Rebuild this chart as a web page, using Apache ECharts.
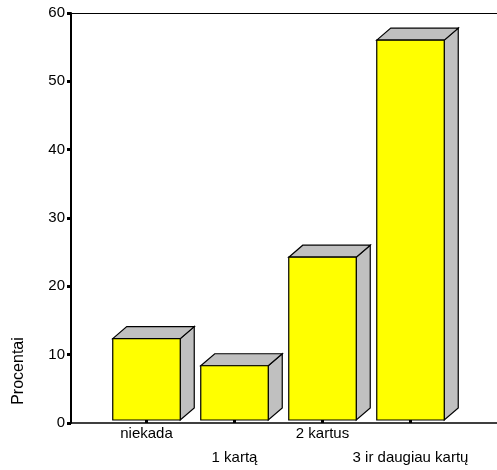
<!DOCTYPE html>
<html><head><meta charset="utf-8">
<script src="https://cdn.jsdelivr.net/npm/echarts@6/dist/echarts.min.js"></script>
<style>html,body{margin:0;padding:0;background:#fff}#c{width:497px;height:470px}</style>
</head><body><div id="c"></div>
<script>
var categories = ['niekada', '1 kartą', '2 kartus', '3 ir daugiau kartų'];
var values = [12, 8, 24, 56];
var yTicks = { min: 0, max: 60, interval: 10 };
var yTitle = 'Procentai';

var FONT = '"Liberation Sans", Arial, sans-serif';
var DX = 14, DY = 12;
var chart = echarts.init(document.getElementById('c'));
chart.setOption({
  animation: false,
  backgroundColor: '#fff',
  grid: [
    { left: 71, right: 0, top: 13, bottom: 47 },
    { left: 102.5, width: 352, top: 13, bottom: 47 }
  ],
  xAxis: [
    { gridIndex: 0, type: 'value', min: 0, max: 1, position: 'bottom',
      axisLine: { show: true, lineStyle: { color: '#000', width: 1.5 } },
      axisTick: { show: false }, axisLabel: { show: false }, splitLine: { show: false } },
    { gridIndex: 0, type: 'value', min: 0, max: 1, position: 'top',
      axisLine: { show: true, lineStyle: { color: '#000', width: 1 } },
      axisTick: { show: false }, axisLabel: { show: false }, splitLine: { show: false } },
    { gridIndex: 1, type: 'category', data: categories, boundaryGap: true,
      axisLine: { show: false },
      axisTick: { show: true, alignWithLabel: true, length: 3, lineStyle: { color: '#000', width: 3 } },
      axisLabel: { interval: 0, margin: 2, color: '#000', fontSize: 15, fontFamily: FONT, lineHeight: 24,
        formatter: function (v, i) { return i % 2 ? '\n' + v : v; } },
      splitLine: { show: false } }
  ],
  yAxis: [
    { gridIndex: 0, type: 'value', min: yTicks.min, max: yTicks.max, interval: yTicks.interval,
      axisLine: { show: true, lineStyle: { color: '#000', width: 2 } },
      axisTick: { show: true, length: 4, lineStyle: { color: '#000', width: 3 } },
      axisLabel: { color: '#000', fontSize: 15, fontFamily: FONT, margin: 6 },
      splitLine: { show: false } },
    { gridIndex: 1, type: 'value', min: yTicks.min, max: yTicks.max, show: false }
  ],
  graphic: [{
    type: 'text', x: 19, y: 371, rotation: Math.PI / 2,
    style: { text: yTitle, fontSize: 16, fontFamily: FONT, fill: '#000', align: 'center', verticalAlign: 'middle' }
  }],
  series: [{
    type: 'custom', xAxisIndex: 2, yAxisIndex: 1,
    data: values.map(function (v, i) { return [i, v]; }),
    renderItem: function (params, api) {
      var i = api.value(0), v = api.value(1);
      var top = api.coord([i, v]);
      var bot = api.coord([i, 0]);
      var w = api.size([1, 0])[0] * 0.767;
      var x0 = top[0] - w / 2, x1 = top[0] + w / 2, yt = top[1], yb = bot[1];
      var ls = { stroke: '#000', lineWidth: 1.2 };
      return { type: 'group', children: [
        { type: 'polygon', shape: { points: [[x1, yt], [x1 + DX, yt - DY], [x1 + DX, yb - DY], [x1, yb]] },
          style: Object.assign({ fill: '#c0c0c0' }, ls) },
        { type: 'polygon', shape: { points: [[x0, yt], [x0 + DX, yt - DY], [x1 + DX, yt - DY], [x1, yt]] },
          style: Object.assign({ fill: '#c0c0c0' }, ls) },
        { type: 'rect', shape: { x: x0, y: yt, width: w, height: yb - yt },
          style: Object.assign({ fill: '#ffff00' }, ls) }
      ] };
    }
  }]
});
</script></body></html>
